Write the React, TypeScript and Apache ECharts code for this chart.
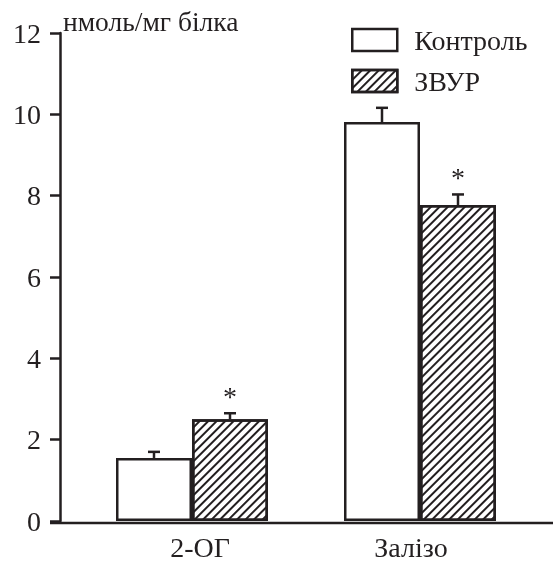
import React, { useEffect, useRef } from 'react';
import * as echarts from 'echarts';

const categories = ['2-ОГ', 'Залізо'];
const seriesNames = ['Контроль', 'ЗВУР'];
const controlValues = [1.55, 9.81];
const controlErrors = [0.15, 0.35];
const zvurValues = [2.5, 7.77];
const zvurErrors = [0.15, 0.26];
const zvurSignificant = [true, true];
const yAxisName = 'нмоль/мг білка';

export default function App() {
  const ref = useRef<HTMLDivElement>(null);
  useEffect(() => {
    const chart = echarts.init(ref.current as HTMLDivElement, null, { renderer: 'svg' });
    const ink = '#231f20';
    const font = '"Liberation Serif", "Times New Roman", serif';
    const BAR_W = 76;
    const hatch = {
      symbol: 'rect',
      symbolSize: 1,
      color: ink,
      backgroundColor: '#ffffff',
      dashArrayX: [1, 0],
      dashArrayY: [1.4, 3.6],
      rotation: -Math.PI / 4,
    };

    const errRender = (offset: number, sig: boolean[] | null) => (params: any, api: any) => {
      const i = api.value(0);
      const v = api.value(1);
      const e = api.value(2);
      const base = api.coord([i, v]);
      const top = api.coord([i, v + e]);
      const x = base[0] + offset;
      const children: any[] = [
        { type: 'line', shape: { x1: x, y1: base[1], x2: x, y2: top[1] }, style: { stroke: ink, lineWidth: 2.5 } },
        { type: 'line', shape: { x1: x - 6, y1: top[1], x2: x + 6, y2: top[1] }, style: { stroke: ink, lineWidth: 2.5 } },
      ];
      if (sig && sig[params.dataIndex]) {
        children.push({
          type: 'text',
          style: {
            x: x,
            y: top[1] - 3,
            text: '*',
            fill: ink,
            font: '28px ' + font,
            align: 'center',
            verticalAlign: 'bottom',
          },
        });
      }
      return { type: 'group', children };
    };

    const labelStyle = { fontSize: 28, fontFamily: font, color: ink };

    chart.setOption({
      animation: false,
      textStyle: { fontFamily: font, color: ink },
      grid: { left: 78, right: 19, top: 33, bottom: 38, containLabel: false },
      legend: {
        orient: 'vertical',
        left: 346,
        top: 21,
        icon: 'rect',
        itemWidth: 45,
        itemHeight: 22,
        itemGap: 13,
        textStyle: { fontSize: 28, fontFamily: font, color: ink, lineHeight: 24, padding: [0, 0, 0, 12] },
        data: [
          { name: seriesNames[0], itemStyle: { color: '#ffffff', borderColor: ink, borderWidth: 2.5 } },
          { name: seriesNames[1], itemStyle: { color: '#ffffff', borderColor: ink, borderWidth: 2.5, decal: hatch } },
        ],
      },
      xAxis: {
        type: 'category',
        data: categories,
        axisLine: { show: false },
        axisTick: { show: false },
        axisLabel: {
          ...labelStyle,
          margin: 12,
          formatter: (v: string, i: number) => (i === 0 ? '{a|' + v + '}' : '{b|' + v + '}'),
          rich: {
            a: { ...labelStyle, padding: [0, 0, 0, 16] },
            b: { ...labelStyle, padding: [0, 18, 0, 0] },
          },
        },
      },
      yAxis: {
        type: 'value',
        min: 0,
        max: 12,
        interval: 2,
        offset: 18,
        name: yAxisName,
        nameLocation: 'end',
        nameGap: -2,
        nameTextStyle: { fontSize: 27.5, fontFamily: font, color: ink, align: 'left', verticalAlign: 'bottom', padding: [0, 0, 0, 3] },
        axisLine: { show: true, lineStyle: { color: ink, width: 2.5 } },
        axisTick: { show: true, length: 10, lineStyle: { color: ink, width: 2.5 } },
        axisLabel: { ...labelStyle, margin: 19 },
        splitLine: { show: false },
      },
      graphic: [
        { type: 'line', shape: { x1: 50, y1: 523, x2: 553, y2: 523 }, style: { stroke: ink, lineWidth: 2.5 }, z: 100 },
      ],
      series: [
        {
          name: seriesNames[0],
          type: 'bar',
          data: controlValues,
          barWidth: BAR_W,
          barGap: '0%',
          itemStyle: { color: '#ffffff', borderColor: ink, borderWidth: 2.5 },
        },
        {
          name: seriesNames[1],
          type: 'bar',
          data: zvurValues,
          barWidth: BAR_W,
          barGap: '0%',
          itemStyle: { color: '#ffffff', borderColor: ink, borderWidth: 2.5, decal: hatch },
        },
        {
          type: 'custom',
          data: controlValues.map((v, i) => [i, v, controlErrors[i]]),
          renderItem: errRender(-BAR_W / 2, null),
          z: 5,
          silent: true,
        },
        {
          type: 'custom',
          data: zvurValues.map((v, i) => [i, v, zvurErrors[i]]),
          renderItem: errRender(BAR_W / 2, zvurSignificant),
          z: 5,
          silent: true,
        },
      ],
    });
    return () => chart.dispose();
  }, []);
  return <div ref={ref} style={{ position: 'fixed', left: 0, top: 0, width: 553, height: 561 }} />;
}
